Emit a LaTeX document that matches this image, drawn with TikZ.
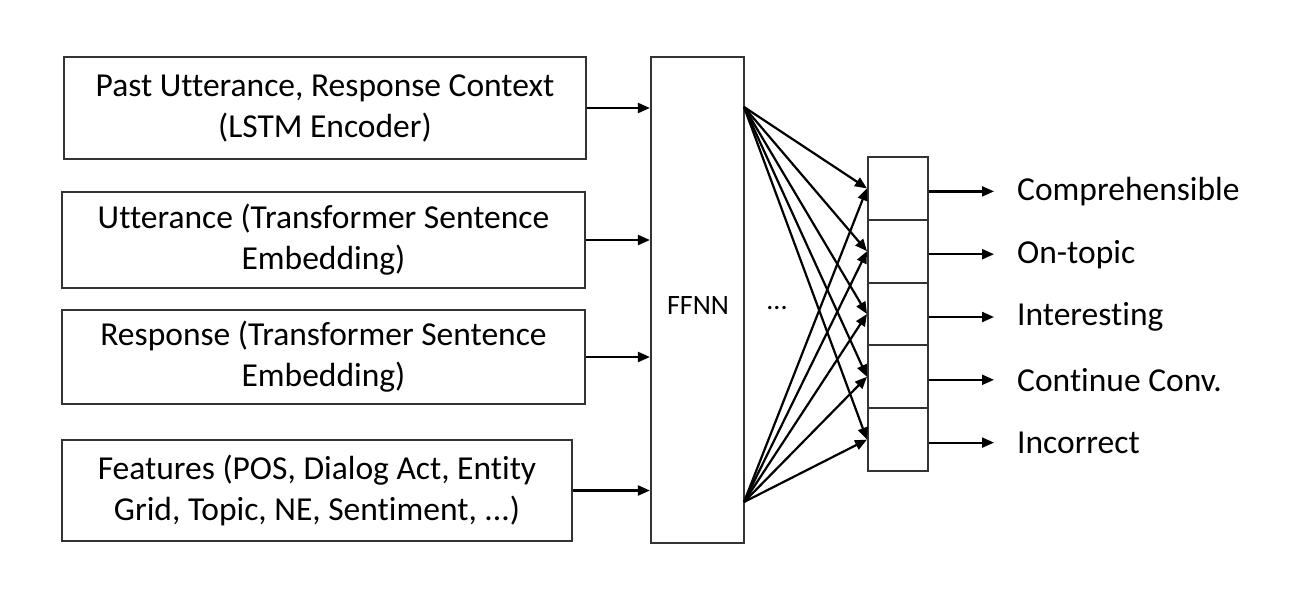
\documentclass[tikz,border=0pt]{standalone}
\usepackage{fontspec}
\setmainfont[RawFeature=-liga]{Carlito}
\usetikzlibrary{arrows.meta,calc}
\begin{document}
\begin{tikzpicture}[x=1pt,y=-1pt,
  inbox/.style={draw=black!80,line width=2.2pt,align=center,inner sep=0pt,
    font=\fontsize{33.5}{41}\selectfont},
  cell/.style={draw=black!80,line width=2pt,minimum width=60pt,minimum height=62.8pt,inner sep=0pt},
  conn/.style={line width=2.2pt,-{Triangle[length=12pt,width=10pt]}},
  lbl/.style={anchor=west,inner sep=0pt,font=\fontsize{33.5}{40}\selectfont}]
\fill[white] (0,0) rectangle (1302,597);
\useasboundingbox (0,0) rectangle (1302,597);
% inputs
\node[inbox,minimum width=522pt,minimum height=102pt] (in1) at (325,108)
  {Past Utterance, Response Context\\(LSTM Encoder)};
\node[inbox,minimum width=523pt,minimum height=96pt] (in2) at (323.5,240)
  {Utterance (Transformer Sentence\\Embedding)};
\node[inbox,minimum width=523pt,minimum height=94pt] (in3) at (323.5,357)
  {Response (Transformer Sentence\\Embedding)};
\node[inbox,minimum width=510pt,minimum height=101pt] (in4) at (317,490.5)
  {Features (POS, Dialog Act, Entity\\Grid, Topic, NE, Sentiment, ...)};
% FFNN
\node[draw=black!80,line width=2.2pt,minimum width=93pt,minimum height=486pt,inner sep=0pt] (ffnn) at (697.5,300) {};
\node[inner sep=0pt,font=\fontsize{28}{32}\selectfont] (ffnnlbl) at (698,306) {FFNN};
\node[inner sep=0pt,font=\fontsize{28}{32}\selectfont] (dots) at (777,308) {...};
% input arrows
\foreach \i in {1,...,4}{
  \draw[conn] (in\i.east) -- (in\i.east -| ffnn.west);
}
% output stack
\foreach \k [evaluate=\k as \yy using 188.4+62.8*(\k-1)] in {1,...,5}{
  \node[cell] (c\k) at (898,\yy) {};
}
\coordinate (top) at (744,107);
\coordinate (bot) at (744,502);
\foreach \k in {1,...,5}{
  \draw[conn] (top) -- (c\k.west);
  \draw[conn] (bot) -- (c\k.west);
}
% outputs
\foreach \k/\t in {1/Comprehensible,2/On-topic,3/Interesting,4/Continue Conv.,5/Incorrect}{
  \coordinate (o\k) at ($(c\k.east)+(65,3)$);
  \draw[conn] (c\k.east |- o\k) -- (o\k);
  \node[lbl] (l\k) at ($(o\k)+(23,0)$) {\t};
}
\end{tikzpicture}
\end{document}
